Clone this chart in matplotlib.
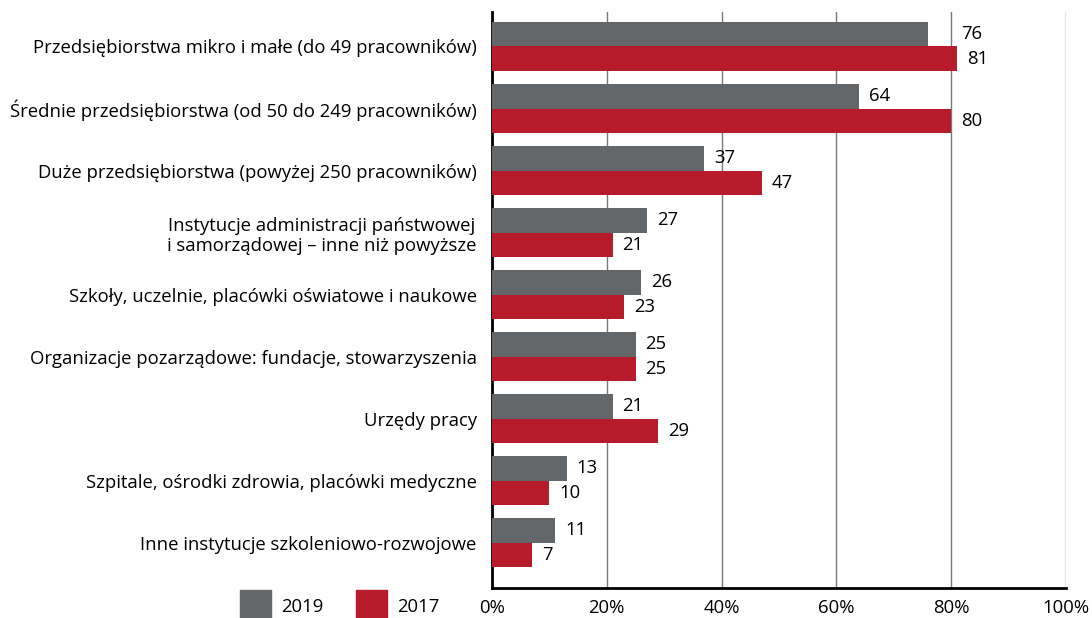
import numpy as np
import matplotlib.pyplot as plt
from matplotlib.patches import Rectangle

categories = [
    "Przedsiębiorstwa mikro i małe (do 49 pracowników)",
    "Średnie przedsiębiorstwa (od 50 do 249 pracowników)",
    "Duże przedsiębiorstwa (powyżej 250 pracowników)",
    "Instytucje administracji państwowej\ni samorządowej – inne niż powyższe",
    "Szkoły, uczelnie, placówki oświatowe i naukowe",
    "Organizacje pozarządowe: fundacje, stowarzyszenia",
    "Urzędy pracy",
    "Szpitale, ośrodki zdrowia, placówki medyczne",
    "Inne instytucje szkoleniowo-rozwojowe",
]
v2019 = [76, 64, 37, 27, 26, 25, 21, 13, 11]
v2017 = [81, 80, 47, 21, 23, 25, 29, 10, 7]
ticks = [0, 20, 40, 60, 80, 100]

gray = "#63676a"
red = "#b71b2b"

plt.rcParams['font.family'] = ['Open Sans', 'DejaVu Sans']
fs = 13.3

fig = plt.figure(figsize=(10.92, 6.18), dpi=100)
ax = fig.add_axes([492/1092, 1 - 588/618, (1066 - 492)/1092, 576/618])

y = np.arange(len(categories))
h = 0.395
ax.barh(y - h/2, v2019, height=h, color=gray, zorder=3)
ax.barh(y + h/2, v2017, height=h, color=red, zorder=3)

for i, (yi, v) in enumerate(zip(y, v2019)):
    dx = 5.7 if i == 0 else 1.7  # first label moved past the 80% line
    ax.text(v + dx, yi - h/2, str(v), va='center', ha='left', fontsize=fs)
for yi, v in zip(y, v2017):
    ax.text(v + 1.7, yi + h/2, str(v), va='center', ha='left', fontsize=fs)

ax.set_xlim(0, 100)
ax.set_ylim(8.73, -0.556)
ax.set_xticks(ticks)
ax.set_xticklabels([f"{t}%" for t in ticks], fontsize=fs)
ax.set_yticks(y)
ax.set_yticklabels(categories, fontsize=fs, linespacing=1.15)
ax.tick_params(axis='y', length=0, pad=11)
ax.tick_params(axis='x', length=0, pad=8)
for lab in ax.get_yticklabels():
    lab.set_horizontalalignment('right')
    lab.set_multialignment('center')

ax.grid(axis='x', color='#7a7a7a', linewidth=1, zorder=0)
ax.spines['top'].set_visible(False)
ax.spines['right'].set_visible(False)
ax.spines['left'].set_linewidth(2)
ax.spines['bottom'].set_linewidth(2)

# legend at the bottom left
for x0, col, lab in [(240, gray, "2019"), (356, red, "2017")]:
    fig.patches.append(Rectangle((x0/1092, 0), 31/1092, 28/618, color=col,
                                 transform=fig.transFigure))
    fig.text((x0 + 41)/1092, 1 - 607/618, lab, fontsize=fs, va='center', ha='left')

fig.savefig("out.png", dpi=100)
